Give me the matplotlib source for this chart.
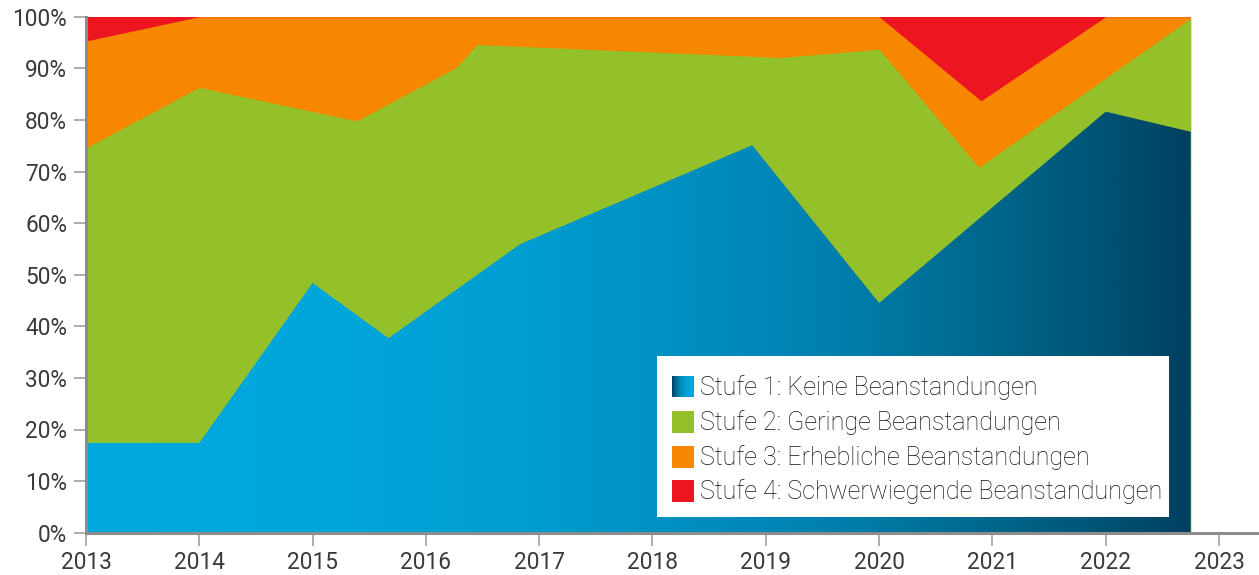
import numpy as np
import matplotlib
matplotlib.use("Agg")
import matplotlib.pyplot as plt
from matplotlib.colors import LinearSegmentedColormap
from matplotlib.patches import Polygon, Rectangle

# ---- data (cumulative shares in %) ----
# Upper edge of Stufe 1 (Keine Beanstandungen)
years_s1 = [2013.0, 2014.0, 2015.0, 2015.67, 2016.83, 2018.88, 2020.0, 2022.0, 2022.75]
stufe1_top = [17.4, 17.4, 48.4, 37.7, 55.9, 75.1, 44.5, 81.6, 77.7]
# Upper edge of Stufe 1 + Stufe 2 (Geringe Beanstandungen)
years_s2 = [2013.0, 2014.0, 2015.39, 2016.27, 2016.45, 2019.13, 2020.0, 2020.88, 2022.75]
stufe2_top = [74.6, 86.3, 79.8, 90.2, 94.6, 92.1, 93.7, 70.8, 99.7]
# Upper edge of Stufe 1 + 2 + 3 (Erhebliche Beanstandungen)
years_s3 = [2013.0, 2014.0, 2020.0, 2020.9, 2022.0, 2022.75]
stufe3_top = [95.3, 100.0, 100.0, 83.7, 100.0, 100.0]
# Upper edge of all four (Stufe 4: Schwerwiegende Beanstandungen)
years_s4 = [2013.0, 2022.75]
stufe4_top = [100.0, 100.0]

x_ticks = list(range(2013, 2024))
y_ticks = list(range(0, 101, 10))
y_labels = [f"{v}%" for v in y_ticks]
legend_labels = ["Stufe 1: Keine Beanstandungen",
                 "Stufe 2: Geringe Beanstandungen",
                 "Stufe 3: Erhebliche Beanstandungen",
                 "Stufe 4: Schwerwiegende Beanstandungen"]

# ---- style ----
RED = "#ec1520"
ORANGE = "#f78600"
GREEN = "#94c12a"
blue_stops = [(0.0, "#00a9df"), (0.25, "#00a5da"), (0.4, "#009dd0"),
              (0.6, "#0089ba"), (0.7, "#007ca9"), (0.8, "#006a90"),
              (0.9, "#00587a"), (1.0, "#004060")]
blue_cmap = LinearSegmentedColormap.from_list("blue", blue_stops)

plt.rcParams["font.family"] = ["Roboto", "DejaVu Sans"]

W, H = 1259, 575
fig = plt.figure(figsize=(W / 100, H / 100), dpi=100)

def fx(px):
    return px / W

def fy(py):
    return 1 - py / H

ax_left, ax_right, ax_top, ax_bottom = 86, 1259, 16.7, 532.7
ax = fig.add_axes([fx(ax_left), fy(ax_bottom), fx(ax_right - ax_left), (ax_bottom - ax_top) / H])

x_end = 2013 + (ax_right - ax_left) / 113.3

ax.fill_between(years_s4, 0, stufe4_top, color=RED, lw=0, zorder=1)
ax.fill_between(years_s3, 0, stufe3_top, color=ORANGE, lw=0, zorder=2)
ax.fill_between(years_s2, 0, stufe2_top, color=GREEN, lw=0, zorder=3)

grad = np.linspace(0, 1, 512).reshape(1, -1)
im = ax.imshow(grad, extent=[years_s1[0], years_s1[-1], 0, 100], aspect="auto",
               cmap=blue_cmap, origin="lower", zorder=4, interpolation="bilinear")
verts = np.column_stack([years_s1 + years_s1[::-1],
                         stufe1_top + [0.0] * len(years_s1)])
clip = Polygon(verts, closed=True, transform=ax.transData, facecolor="none", edgecolor="none")
ax.add_patch(clip)
im.set_clip_path(clip)

ax.set_xlim(2013, x_end)
ax.set_ylim(0, 100)
ax.set_xticks(x_ticks)
ax.set_xticklabels([str(t) for t in x_ticks])
ax.set_yticks(y_ticks)
ax.set_yticklabels(y_labels)

for s in ["top", "right"]:
    ax.spines[s].set_visible(False)
for s in ["left", "bottom"]:
    ax.spines[s].set_color("#8c8c8c")
    ax.spines[s].set_linewidth(2.2)
    ax.spines[s].set_zorder(6)
ax.tick_params(axis="both", color="#999999", length=9, width=1.1,
               labelsize=16.3, pad=4.5)
ax.tick_params(axis="both", labelcolor="#3a3a3a")
for lab in ax.get_xticklabels() + ax.get_yticklabels():
    lab.set_fontweight("normal")

# ---- legend (drawn manually) ----
box = Rectangle((fx(657), fy(517)), fx(1169 - 657), (517 - 356) / H,
                transform=fig.transFigure, facecolor="white", edgecolor="none", zorder=5)
fig.add_artist(box)
row_centers = [386.5, 421.5, 456.5, 490.5]
patch_colors = [None, GREEN, ORANGE, RED]
psize = 22
for i, (yc, lab, col) in enumerate(zip(row_centers, legend_labels, patch_colors)):
    if col is None:
        pax = fig.add_axes([fx(672), fy(yc + psize / 2), psize / W, psize / H])
        pax.imshow(grad[:, ::-1], cmap=blue_cmap, aspect="auto", interpolation="bilinear")
        pax.set_axis_off()
        pax.set_zorder(7)
    else:
        fig.add_artist(Rectangle((fx(672), fy(yc + psize / 2)), psize / W, psize / H,
                                 transform=fig.transFigure, facecolor=col,
                                 edgecolor="none", zorder=6))
    fig.text(fx(700), fy(yc + 1), lab, fontsize=18.1, fontweight="light",
             color="#111111", va="center", ha="left", zorder=8)

fig.savefig("out.png", dpi=100)
